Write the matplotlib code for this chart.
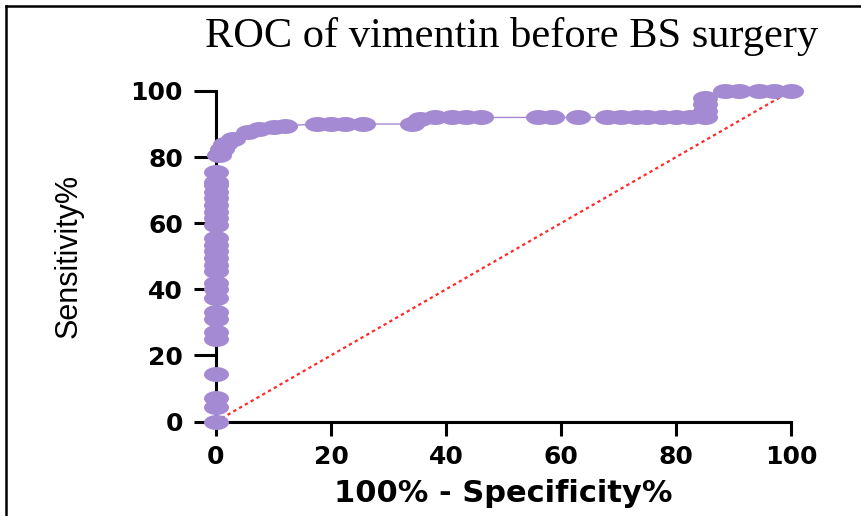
import numpy as np
import matplotlib
matplotlib.use("Agg")
import matplotlib.pyplot as plt
from matplotlib.path import Path
from matplotlib.lines import Line2D
from matplotlib.font_manager import FontProperties

# === Daten ===
# x: 100% - Specificity%, y: Sensitivity%
fpr = [0, 0, 0, 0, 0, 0, 0, 0, 0, 0, 0, 0, 0, 0, 0, 0, 0, 0, 0, 0, 0, 0, 0, 0, 0, 0,
       0.5, 1, 1.5, 3, 5.5, 7.5, 10, 12,
       17.5, 20, 22.5, 25.5, 34, 35.5, 38, 41, 43.5, 46,
       56, 58.5, 63, 68, 70.5, 73, 75, 77.5, 80, 82.5, 85,
       85, 85, 85, 88.5, 91, 94.5, 97, 100]
sens = [0, 4.5, 7, 14.5, 25, 27, 31, 33, 37.5, 40, 42, 45.5, 47.5, 49.5,
        51.5, 53.5, 55.5, 59.5, 61.5, 63.5, 65.5, 67.5, 69.5, 71.5, 72.5, 75.5,
        80.5, 82.5, 84, 85.5, 87.5, 88.5, 89, 89.5,
        90, 90, 90, 90, 90, 91.5, 92, 92, 92, 92,
        92, 92, 92, 92, 92, 92, 92, 92, 92, 92, 92,
        94, 96, 98, 100, 100, 100, 100, 100]
ref_line = [0, 100]
ticks = [0, 20, 40, 60, 80, 100]

title = "ROC of vimentin before BS surgery"
xlabel = "100% - Specificity%"
ylabel = "Sensitivity%"

purple = "#a48ad3"

# ovaler Marker (Bild war horizontal gestreckt)
t = np.linspace(0, 2 * np.pi, 60)
ellipse = Path(np.column_stack([1.67 * np.cos(t), np.sin(t)]), closed=True)

fig = plt.figure(figsize=(8.61, 5.16), dpi=100)
ax = fig.add_axes([216 / 861, 94.5 / 516, 575 / 861, 330.5 / 516])

ax.plot(ref_line, ref_line, color="#ff2a2a", lw=1.6, ls=(0, (1.5, 1.5)), zorder=1)
ax.plot(fpr, sens, color=purple, lw=1.0, zorder=2, clip_on=False)
ax.plot(fpr, sens, ls="none", marker=ellipse, markersize=18,
        color=purple, markeredgewidth=0, zorder=3, clip_on=False)

ax.set_xlim(0, 100)
ax.set_ylim(0, 100)
ax.set_xticks(ticks)
ax.set_yticks(ticks)

for s in ["top", "right"]:
    ax.spines[s].set_visible(False)
for s in ["left", "bottom"]:
    ax.spines[s].set_linewidth(2.2)

ax.tick_params(axis="x", length=10, width=2.2, pad=7)
ax.tick_params(axis="y", length=15.8, width=2.2, pad=8)
fp = FontProperties(family="DejaVu Sans", weight="bold", size=18)
for lab in ax.get_xticklabels() + ax.get_yticklabels():
    lab.set_fontproperties(fp)

ax.set_xlabel(xlabel, family="DejaVu Sans", weight="bold", fontsize=22, va="center")
ax.xaxis.set_label_coords(0.5, -0.219)
ax.set_ylabel(ylabel, family="Liberation Sans", fontsize=22, va="center")
ax.yaxis.set_label_coords(-0.257, 0.5)

fig.text(512 / 861, 1 - 47 / 516, title, family="Liberation Serif",
         fontsize=30.5, ha="center", va="baseline")

# Rahmen links und oben
fig.add_artist(Line2D([6 / 861, 6 / 861], [0, 1 - 6 / 516], color="black", lw=1.8))
fig.add_artist(Line2D([6 / 861, 1], [1 - 6 / 516, 1 - 6 / 516], color="black", lw=1.8))

fig.savefig("out.png", dpi=100)
